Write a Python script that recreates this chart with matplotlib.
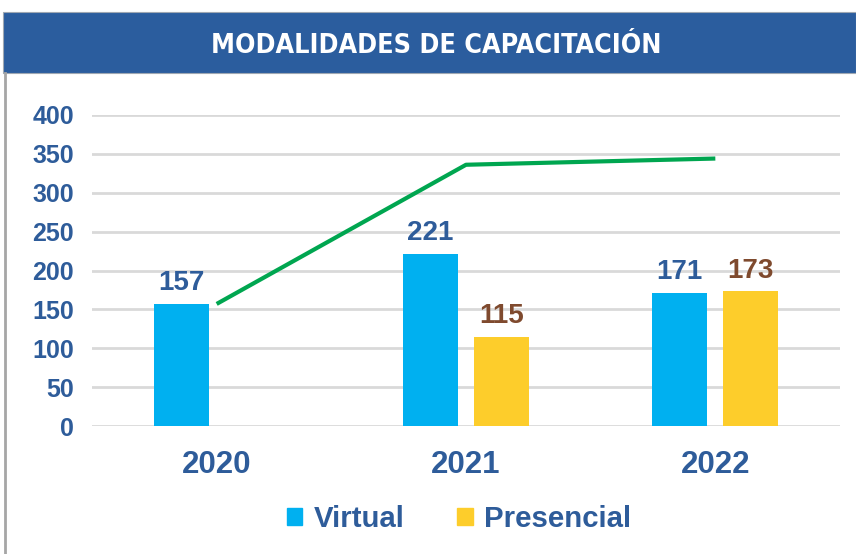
import matplotlib
matplotlib.use("Agg")
import matplotlib.pyplot as plt
from matplotlib.patches import Rectangle
from matplotlib.lines import Line2D
import numpy as np

years = ["2020", "2021", "2022"]
virtual = [157, 221, 171]
presencial = [0, 115, 173]
total = [157, 336, 344]
y_ticks = [0, 50, 100, 150, 200, 250, 300, 350, 400]
title = "MODALIDADES DE CAPACITACIÓN"

C_VIRT = "#00B0F0"
C_PRES = "#FDCD2B"
C_LINE = "#00A650"
C_TEXT = "#2E5C9A"
C_PRES_TXT = "#7F4A2E"
C_BANNER = "#2B5D9E"
FONT = ["Liberation Sans", "DejaVu Sans"]

W, H = 856, 554
fig = plt.figure(figsize=(W / 100, H / 100), dpi=100)
fig.patch.set_facecolor("white")

def fx(px):
    return px / W

def fy(py):
    return 1 - py / H

# banner
fig.patches.append(Rectangle((fx(3), fy(73)), fx(856 - 3), (73 - 12) / H,
                             transform=fig.transFigure, facecolor=C_BANNER,
                             edgecolor="#9FA8B3", linewidth=0.8, zorder=0))
fig.text(fx(436), fy(46), title, color="white", fontsize=19.3, fontweight="bold",
         family=["DejaVu Sans"], fontstretch="condensed", ha="center", va="center")
# left border line
fig.add_artist(Line2D([fx(5), fx(5)], [fy(73), fy(554)], transform=fig.transFigure,
                      color="#A6A6A6", linewidth=2))

ax = fig.add_axes([fx(92), fy(426), fx(840 - 92), (426 - 115) / H])
x = np.arange(len(years))
bw = 0.22
off = 0.1424
ax.bar(x - off, virtual, bw, color=C_VIRT, zorder=2)
pres_x = [xi + off for xi, v in zip(x, presencial) if v > 0]
pres_v = [v for v in presencial if v > 0]
ax.bar(pres_x, pres_v, bw, color=C_PRES, zorder=2)
ax.plot(x, total, color=C_LINE, linewidth=3, zorder=3, solid_capstyle="butt")

for xi, v in zip(x, virtual):
    ax.text(xi - off, v + 10, str(v), ha="center", va="bottom", color=C_TEXT,
            fontsize=20, fontweight="bold", family=FONT)
for xi, v in zip(pres_x, pres_v):
    ax.text(xi, v + 10, str(v), ha="center", va="bottom", color=C_PRES_TXT,
            fontsize=20, fontweight="bold", family=FONT)

ax.set_xlim(-0.5, 2.5)
ax.set_ylim(0, 400)
ax.set_yticks(y_ticks)
ax.set_yticklabels([str(t) for t in y_ticks], color=C_TEXT, fontsize=18,
                   fontweight="bold", family=FONT)
ax.set_xticks(x)
ax.set_xticklabels(years, color=C_TEXT, fontsize=22.5, fontweight="bold", family=FONT)
ax.tick_params(axis="y", length=0, pad=13)
ax.tick_params(axis="x", length=0, pad=17)
ax.grid(axis="y", color="#D9D9D9", linewidth=2, zorder=0)
ax.set_axisbelow(True)
for s in ax.spines.values():
    s.set_visible(False)

# legend
handles = [Rectangle((0, 0), 1, 1, color=C_VIRT), Rectangle((0, 0), 1, 1, color=C_PRES)]
leg = fig.legend(handles, ["Virtual", "Presencial"], loc="center",
                 bbox_to_anchor=(fx(459), fy(519)), ncol=2, frameon=False,
                 handlelength=0.54, handleheight=0.54, handletextpad=0.4,
                 columnspacing=1.75, prop={"family": FONT, "weight": "bold", "size": 21.2})
for t in leg.get_texts():
    t.set_color(C_TEXT)

fig.savefig("out.png", dpi=100, facecolor="white")
